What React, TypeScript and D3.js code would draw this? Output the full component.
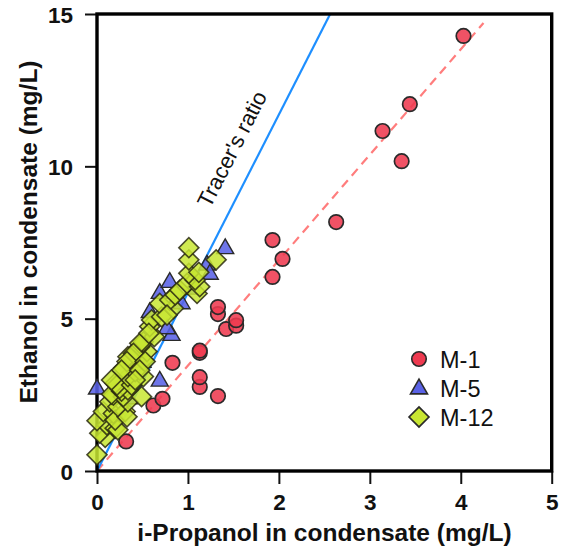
import React, { useEffect, useRef } from "react";
import * as d3 from "d3";

// M-1 (red circles)
const m1X = [0.32, 0.62, 0.72, 0.83, 1.13, 1.13, 1.13, 1.13, 1.33, 1.33, 1.33, 1.42, 1.53, 1.53, 1.93, 1.93, 2.04, 2.63, 3.14, 3.35, 3.44, 4.03];
const m1Y = [0.97, 2.15, 2.37, 3.55, 2.76, 3.08, 3.88, 3.95, 2.46, 5.15, 5.38, 4.66, 4.77, 4.95, 6.37, 7.58, 6.96, 8.17, 11.16, 10.17, 12.04, 14.28];

// M-5 (blue triangles)
const m5X = [0.0, 0.69, 0.82, 0.58, 0.69, 0.80, 0.93, 1.21, 1.24, 1.41, 0.35, 0.50, 1.05, 0.77];
const m5Y = [2.72, 2.98, 4.48, 5.23, 5.86, 6.22, 5.52, 6.79, 6.49, 7.33, 2.40, 3.60, 6.00, 4.70];

// M-12 (green diamonds)
const m12X = [0.0, 0.09, 0.03, 0.11, 0.2, 0.23, 0.0, 0.07, 0.18, 0.2, 0.31, 0.33, 0.14, 0.23, 0.34, 0.18, 0.29, 0.16, 0.49, 0.27, 0.34, 0.25, 0.2, 0.22, 0.38, 0.34, 0.51, 0.42, 0.29, 0.51, 0.34, 0.42, 0.55, 0.47, 0.51, 0.63, 0.58, 0.6, 0.71, 0.84, 0.69, 0.8, 0.86, 1.1, 0.91, 0.99, 1.13, 1.08, 1.01, 1.12, 1.01, 1.31, 1.01, 0.77, 0.47, 0.4, 0.33, 0.53, 0.27, 0.47, 0.16, 0.42, 0.57];
const m12Y = [0.53, 1.1, 1.24, 1.51, 1.4, 1.35, 1.65, 1.95, 1.89, 1.67, 1.95, 1.78, 2.27, 2.11, 2.27, 2.49, 2.44, 2.52, 2.44, 2.62, 2.66, 2.71, 2.88, 2.82, 2.82, 3.1, 3.1, 3.26, 3.37, 3.64, 3.75, 3.86, 3.92, 4.08, 4.24, 4.41, 4.74, 4.96, 5.06, 5.34, 5.5, 5.61, 5.78, 5.83, 5.94, 6.16, 6.05, 6.27, 6.49, 6.52, 6.93, 6.93, 7.33, 5.12, 4.19, 3.86, 3.59, 3.59, 3.31, 3.31, 2.99, 2.99, 4.52];

const xTicks = [0, 1, 2, 3, 4, 5];
const yTicks = [0, 5, 10, 15];
const legendLabels = ["M-1", "M-5", "M-12"];
const tracerSlope = [0, 5.85];
const fitSlope = [0, 3.46];
const fitEndX = 4.25;

export default function App() {
  const ref = useRef<SVGSVGElement>(null);

  useEffect(() => {
    const svg = d3.select(ref.current);
    svg.selectAll("*").remove();
    const W = 566, H = 548;
    const FONT = "Liberation Sans, Arial, Helvetica, sans-serif";
    const x = d3.scaleLinear().domain([0, 5]).range([97, 551.7]);
    const y = d3.scaleLinear().domain([0, 15]).range([471, 14]);

    svg.append("rect").attr("width", W).attr("height", H).attr("fill", "white");

    const clipId = "plotclip";
    svg.append("clipPath").attr("id", clipId).append("rect")
      .attr("x", x(0)).attr("y", y(15)).attr("width", x(5) - x(0)).attr("height", y(0) - y(15));

    const gl = svg.append("g").attr("clip-path", `url(#${clipId})`);

    // red dashed fit line
    gl.append("line")
      .attr("x1", x(0)).attr("y1", y(fitSlope[0]))
      .attr("x2", x(fitEndX)).attr("y2", y(fitSlope[0] + fitSlope[1] * fitEndX))
      .attr("stroke", "#ff7d7d").attr("stroke-width", 2.2).attr("stroke-dasharray", "9,6");

    // blue tracer line
    const tEnd = (15 - tracerSlope[0]) / tracerSlope[1];
    gl.append("line")
      .attr("x1", x(0)).attr("y1", y(tracerSlope[0]))
      .attr("x2", x(tEnd)).attr("y2", y(15))
      .attr("stroke", "#1e8fff").attr("stroke-width", 2.2);

    // axes
    const xAxis = d3.axisBottom(x).tickValues(xTicks).tickSize(13).tickSizeOuter(0).tickPadding(5).tickFormat(d3.format("d") as any);
    const yAxis = d3.axisLeft(y).tickValues(yTicks).tickSize(12).tickSizeOuter(0).tickPadding(12).tickFormat(d3.format("d") as any);
    const gx = svg.append("g").attr("transform", `translate(0,${y(0)})`).call(xAxis);
    const gy = svg.append("g").attr("transform", `translate(${x(0)},0)`).call(yAxis);
    [gx, gy].forEach((a) => {
      a.select(".domain").remove();
      a.selectAll("line").attr("stroke", "#111").attr("stroke-width", 2);
      a.selectAll("text").attr("font-family", FONT)
        .attr("font-weight", "bold").attr("font-size", 22.5).attr("fill", "#111");
    });
    gy.selectAll("text").attr("dy", "0.36em");
    gx.selectAll("text").attr("dy", "0.92em");

    // frame
    svg.append("rect")
      .attr("x", x(0)).attr("y", y(15)).attr("width", x(5) - x(0)).attr("height", y(0) - y(15))
      .attr("fill", "none").attr("stroke", "#000").attr("stroke-width", 3.4);

    const circle = d3.symbol().type(d3.symbolCircle).size(165);
    const tri = d3.symbol().type(d3.symbolTriangle).size(125);
    const sq = d3.symbol().type(d3.symbolSquare).size(200);

    const pts = (xs: number[], ys: number[]) => xs.map((v, i) => [v, ys[i]]);
    const g = svg.append("g");

    g.selectAll("path.m1").data(pts(m1X, m1Y)).join("path")
      .attr("d", circle as any)
      .attr("transform", (d: any) => `translate(${x(d[0])},${y(d[1])})`)
      .attr("fill", "#ee3a50").attr("fill-opacity", 0.88)
      .attr("stroke", "#2a2a2a").attr("stroke-width", 1.7);

    g.selectAll("path.m5").data(pts(m5X, m5Y)).join("path")
      .attr("d", tri as any)
      .attr("transform", (d: any) => `translate(${x(d[0])},${y(d[1]) + 1})`)
      .attr("fill", "#5a62e6").attr("fill-opacity", 0.88)
      .attr("stroke", "#2a2a2a").attr("stroke-width", 1.4);

    g.selectAll("path.m12").data(pts(m12X, m12Y)).join("path")
      .attr("d", sq as any)
      .attr("transform", (d: any) => `translate(${x(d[0])},${y(d[1])}) rotate(45)`)
      .attr("fill", "#c8e632").attr("fill-opacity", 0.85)
      .attr("stroke", "#2a2a10").attr("stroke-width", 1.6).attr("stroke-opacity", 0.85);

    // Tracer's ratio label
    const ang = Math.atan2(y(0) - y(tracerSlope[1]), x(1) - x(0)) * 180 / Math.PI;
    svg.append("text")
      .attr("transform", `translate(210,209) rotate(${-ang})`)
      .attr("font-family", FONT)
      .attr("font-size", 22).attr("fill", "#111")
      .text("Tracer's ratio");

    // axis titles
    svg.append("text")
      .attr("x", 324.5).attr("y", 541)
      .attr("text-anchor", "middle")
      .attr("font-family", FONT)
      .attr("font-weight", "bold").attr("font-size", 24.5).attr("fill", "#111")
      .text("i-Propanol in condensate (mg/L)");
    svg.append("text")
      .attr("transform", `translate(37,232) rotate(-90)`)
      .attr("text-anchor", "middle")
      .attr("font-family", FONT)
      .attr("font-weight", "bold").attr("font-size", 24.5).attr("fill", "#111")
      .text("Ethanol in condensate (mg/L)");

    // legend
    const legY = [359, 388, 417];
    const syms = [circle, tri, sq];
    const fills = ["#ee3a50", "#5a62e6", "#c8e632"];
    legendLabels.forEach((lab, i) => {
      svg.append("path").attr("d", syms[i] as any)
        .attr("transform", `translate(419,${legY[i] + (i === 1 ? 1 : 0)})${i === 2 ? " rotate(45)" : ""}`)
        .attr("fill", fills[i]).attr("stroke", "#2a2a2a").attr("stroke-width", 1.6);
      svg.append("text").attr("x", 440).attr("y", legY[i] + 8.5)
        .attr("font-family", FONT)
        .attr("font-size", 23.5).attr("fill", "#111").text(lab);
    });
  }, []);

  return (
    <svg ref={ref} width={566} height={548} style={{ position: "absolute", left: 0, top: 0 }} />
  );
}
